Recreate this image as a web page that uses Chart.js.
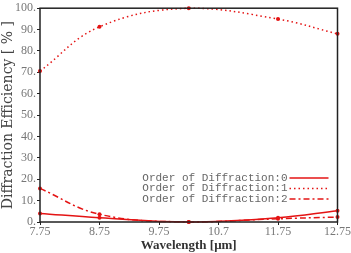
<!DOCTYPE html>
<html>
<head>
<meta charset="utf-8">
<script src="https://cdn.jsdelivr.net/npm/chart.js@4.4.0/dist/chart.umd.min.js"></script>
<style>
  html, body { margin: 0; padding: 0; background: #fff; }
  #wrap { width: 351px; height: 253px; }
</style>
</head>
<body>
<div id="wrap"><canvas id="chart" width="351" height="253"></canvas></div>
<script>
const wavelengths = [7.75, 8.75, 10.25, 11.75, 12.75];
const order0 = [4.0, 2.0, 0.0, 2.0, 5.3];
const order1 = [70.6, 91.3, 100.0, 94.9, 88.0];
const order2 = [15.7, 3.6, 0.0, 1.5, 2.3];
const series_names = ['Order of Diffraction:0', 'Order of Diffraction:1', 'Order of Diffraction:2'];
const x_tick_values = [7.75, 8.75, 9.75, 10.75, 11.75, 12.75];
const x_tick_labels = ['7.75', '8.75', '9.75', '10.7', '11.75', '12.75'];
const y_tick_values = [0, 10, 20, 30, 40, 50, 60, 70, 80, 90, 100];

const red = 'rgb(228,20,20)';
const dashes = [[], [1.5, 3], [6, 3, 2, 3]];

function pts(ys) {
    return wavelengths.map((x, i) => ({x: x, y: ys[i]}));
}

// frame + legend drawn on top of chart area
const frame_plugin = {
    id: 'frame',
    afterDatasetsDraw(chart) {
        const ctx = chart.ctx;
        const a = chart.chartArea;
        ctx.save();
        ctx.strokeStyle = '#222';
        ctx.lineWidth = 1.5;
        ctx.strokeRect(a.left, a.top, a.right - a.left, a.bottom - a.top);

        ctx.font = '11px "Liberation Mono"';
        ctx.textAlign = 'right';
        ctx.textBaseline = 'middle';
        const text_right = a.right - 50;
        series_names.forEach((name, i) => {
            const y = 178 + i * 10.5;
            ctx.fillStyle = '#666';
            ctx.fillText(name, text_right, y);
            ctx.strokeStyle = red;
            ctx.lineWidth = 1.5;
            ctx.setLineDash(dashes[i]);
            ctx.beginPath();
            ctx.moveTo(text_right + 2, y);
            ctx.lineTo(a.right - 9, y);
            ctx.stroke();
        });
        ctx.restore();
    }
};

const chart_inner = {
    type: 'line',
    data: {
        datasets: [order0, order1, order2].map((ys, i) => ({
            label: series_names[i],
            data: pts(ys),
            borderColor: red,
            backgroundColor: red,
            borderWidth: 1.5,
            borderDash: dashes[i],
            pointRadius: 2,
            pointBorderWidth: 0,
            tension: 0.4,
            clip: false
        }))
    },
    options: {
        responsive: false,
        animation: false,
        layout: { padding: { top: 8, right: 12, left: 0, bottom: 0 } },
        plugins: { legend: { display: false }, tooltip: { enabled: false } },
        scales: {
            x: {
                type: 'linear',
                min: 7.75,
                max: 12.75,
                afterBuildTicks: (s) => { s.ticks = x_tick_values.map(v => ({value: v})); },
                afterFit: (s) => { s.height = 31; },
                grid: { display: true, drawOnChartArea: false, tickLength: 3, color: '#222' },
                border: { display: false },
                ticks: {
                    color: '#777',
                    font: { family: 'Liberation Serif', size: 12 },
                    padding: 0,
                    maxRotation: 0,
                    callback: (v) => x_tick_labels[x_tick_values.indexOf(v)]
                },
                title: {
                    display: true,
                    text: 'Wavelength [μm]',
                    color: '#333',
                    font: { family: 'Liberation Serif', size: 13, weight: 'bold' },
                    padding: 0
                }
            },
            y: {
                min: 0,
                max: 100,
                afterBuildTicks: (s) => { s.ticks = y_tick_values.map(v => ({value: v})); },
                afterFit: (s) => { s.width = 40; },
                grid: { display: true, drawOnChartArea: false, tickLength: 3, color: '#222' },
                border: { display: false },
                ticks: {
                    color: '#777',
                    font: { family: 'Liberation Serif', size: 12 },
                    padding: 1,
                    callback: (v) => v + '.'
                },
                title: {
                    display: true,
                    text: 'Diffraction Efficiency [ % ]',
                    color: '#444',
                    font: { family: 'DejaVu Serif', size: 14 },
                    padding: 0
                }
            }
        }
    },
    plugins: [frame_plugin]
};

const chart = new Chart(document.getElementById('chart').getContext('2d'), chart_inner);
</script>
</body>
</html>
